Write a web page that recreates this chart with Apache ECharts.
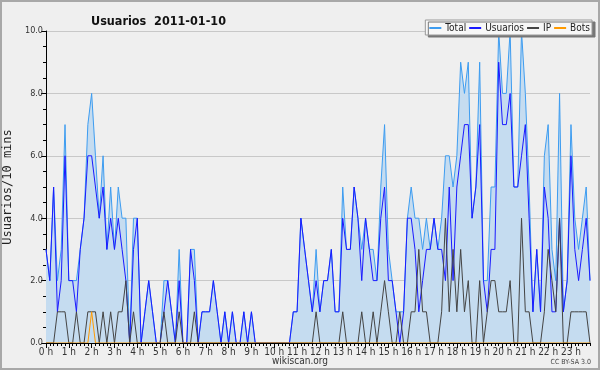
<!DOCTYPE html>
<html><head><meta charset="utf-8">
<script src="https://cdn.jsdelivr.net/npm/echarts@6/dist/echarts.min.js"></script>
<style>html,body{margin:0;padding:0;background:#efefef}#c{width:600px;height:370px}</style>
</head><body><div id="c"></div>
<script>
const hourLabels = ['0 h','1 h','2 h','3 h','4 h','5 h','6 h','7 h','8 h','9 h','10 h','11 h','12 h','13 h','14 h','15 h','16 h','17 h','18 h','19 h','20 h','21 h','22 h','23 h'];
const yTicks = [0, 2, 4, 6, 8, 10];
const seriesNames = ['Total', 'Usuarios', 'IP', 'Bots'];
const total = [3,2,5,2,3,7,2,2,2,3,4,7,8,6,4,6,3,5,3,5,4,4,0,4,4,0,1,2,1,0,
  0,2,2,1,0,3,0,0,3,3,0,1,1,1,2,1,0,1,0,1,0,0,1,0,1,0,0,0,0,0,
  0,0,0,0,0,1,1,4,3,2,1,3,1,2,2,3,1,1,5,3,3,5,4,3,4,3,3,2,5,7,
  3,2,1,1,1,4,5,4,4,3,4,3,4,3,4,6,6,5,6,9,8,9,4,5,9,2,2,5,5,10,
  8,8,10,5,5,10,8,5,1,3,1,6,7,3,2,8,1,2,7,4,3,4,5,2];
const usuarios = [3,2,5,1,2,6,2,2,1,3,4,6,6,5,4,5,3,4,3,4,3,2,0,3,4,0,1,2,1,0,
  0,1,2,1,0,2,0,0,3,2,0,1,1,1,2,1,0,1,0,1,0,0,1,0,1,0,0,0,0,0,
  0,0,0,0,0,1,1,4,3,2,1,2,1,2,2,3,1,1,4,3,3,5,4,2,4,3,2,2,4,5,
  2,2,1,0,1,4,4,3,1,2,3,3,4,3,3,2,5,2,5,6,7,7,4,5,7,2,1,3,3,9,
  7,7,8,5,5,6,7,4,1,3,1,5,4,1,1,4,1,2,6,3,2,3,4,2];
const ip = [0,0,0,1,1,1,0,0,1,0,0,1,1,1,0,1,0,1,0,1,1,2,0,1,0,0,0,0,0,0,
  0,1,0,0,0,1,0,0,0,1,0,0,0,0,0,0,0,0,0,0,0,0,0,0,0,0,0,0,0,0,
  0,0,0,0,0,0,0,0,0,0,0,1,0,0,0,0,0,0,1,0,0,0,0,1,0,0,1,0,1,2,
  1,0,0,1,0,0,1,1,3,1,1,0,0,0,1,4,1,3,1,3,1,2,0,0,2,0,1,2,2,1,
  1,1,2,0,0,4,1,1,0,0,0,1,3,2,1,4,0,0,1,1,1,1,1,0];
const bots = [0,0,0,0,0,0,0,0,0,0,0,0,1,0,0,0,0,0,0,0,0,0,0,0,0,0,0,0,0,0,
  0,0,0,0,0,0,0,0,0,0,0,0,0,0,0,0,0,0,0,0,0,0,0,0,0,0,0,0,0,0,
  0,0,0,0,0,0,0,0,0,0,0,0,0,0,0,0,0,0,0,0,0,0,0,0,0,0,0,0,0,0,
  0,0,0,0,0,0,0,0,0,0,0,0,0,0,0,0,0,0,0,0,0,0,0,0,0,0,0,0,0,0,
  0,0,0,0,0,0,0,0,0,0,0,0,0,0,0,0,0,0,0,0,0,0,0,0];

const categories = [];
hourLabels.forEach(h => { for (let m = 0; m < 6; m++) categories.push(h.replace(' h','') + ':' + m + '0'); });

const F = '"DejaVu Sans Condensed","DejaVu Sans",sans-serif';
const chart = echarts.init(document.getElementById('c'), null, {renderer: 'canvas'});
const lineSeries = (name, data, color, z, extra) => Object.assign({
  name, type: 'line', data, symbol: 'none', z,
  lineStyle: {color, width: 1}, itemStyle: {color}, animation: false
}, extra || {});
chart.setOption({
  backgroundColor: '#efefef',
  animation: false,
  title: {text: 'Usuarios  2011-01-10', left: 86, top: 10,
    textStyle: {fontFamily: F, fontWeight: 'bold', fontSize: 12.5, color: '#111'}},
  legend: {
    data: seriesNames, right: 8, top: 20, orient: 'horizontal',
    backgroundColor: '#f7f7f7', borderColor: '#999', borderWidth: 1,
    shadowColor: '#777', shadowOffsetX: 3, shadowOffsetY: 2, shadowBlur: 0,
    padding: [3, 2, 2, 4], itemGap: 3, itemWidth: 12, itemHeight: 2, icon: 'rect',
    textStyle: {fontFamily: F, fontSize: 10, color: '#222', padding: [0, 0, 0, -1]}
  },
  grid: {left: 46, right: 10, top: 31, bottom: 27, containLabel: false, outerBoundsMode: 'none'},
  xAxis: [{
    type: 'category', data: categories, boundaryGap: false, z: 10,
    axisLine: {lineStyle: {color: '#000', width: 1}},
    axisTick: {interval: 0, length: 3, lineStyle: {color: '#000'}},
    axisLabel: {interval: 5, margin: 4, fontFamily: F, fontSize: 10, color: '#333',
      formatter: (v, i) => i % 6 === 0 ? hourLabels[i / 6] : ''},
    splitLine: {show: false}
  }, {
    type: 'category', data: categories, boundaryGap: false, position: 'bottom', z: 10,
    axisLine: {show: false},
    axisTick: {interval: 5, length: 5, lineStyle: {color: '#000'}},
    axisLabel: {show: false}, splitLine: {show: false}
  }],
  yAxis: {
    type: 'value', min: yTicks[0], max: yTicks[yTicks.length - 1], interval: 2,
    name: 'Usuarios/10 mins', nameLocation: 'middle', nameRotate: 90, nameGap: 32,
    nameTextStyle: {fontFamily: '"DejaVu Sans Mono",monospace', fontSize: 12, color: '#222'},
    axisLine: {show: true, lineStyle: {color: '#000'}},
    axisTick: {show: true, length: 5, lineStyle: {color: '#000'}},
    minorTick: {show: true, splitNumber: 4, length: 3, lineStyle: {color: '#000'}},
    axisLabel: {fontFamily: F, fontSize: 9, color: '#333', margin: 3,
      formatter: v => v.toFixed(1)},
    splitLine: {show: true, lineStyle: {color: '#c8c8c8', width: 1}}
  },
  series: [
    lineSeries('Total', total, '#3d9cf0', 2, {areaStyle: {color: 'rgb(197,220,240)', opacity: 1}}),
    lineSeries('Usuarios', usuarios, '#1a1aff', 3),
    lineSeries('IP', ip, '#444444', 4),
    lineSeries('Bots', bots, '#ff9a00', 5)
  ],
  graphic: [
    {type: 'text', left: 'center', top: 356, style: {text: 'wikiscan.org', font: '10px ' + F, fill: '#333'}},
    {type: 'text', right: 9, top: 359, style: {text: 'CC BY-SA 3.0', font: '7px ' + F, fill: '#444'}},
    {type: 'rect', shape: {x: 1, y: 1, width: 598, height: 368}, style: {fill: 'none', stroke: '#a8a8a8', lineWidth: 2}, silent: true}
  ]
});
</script></body></html>
